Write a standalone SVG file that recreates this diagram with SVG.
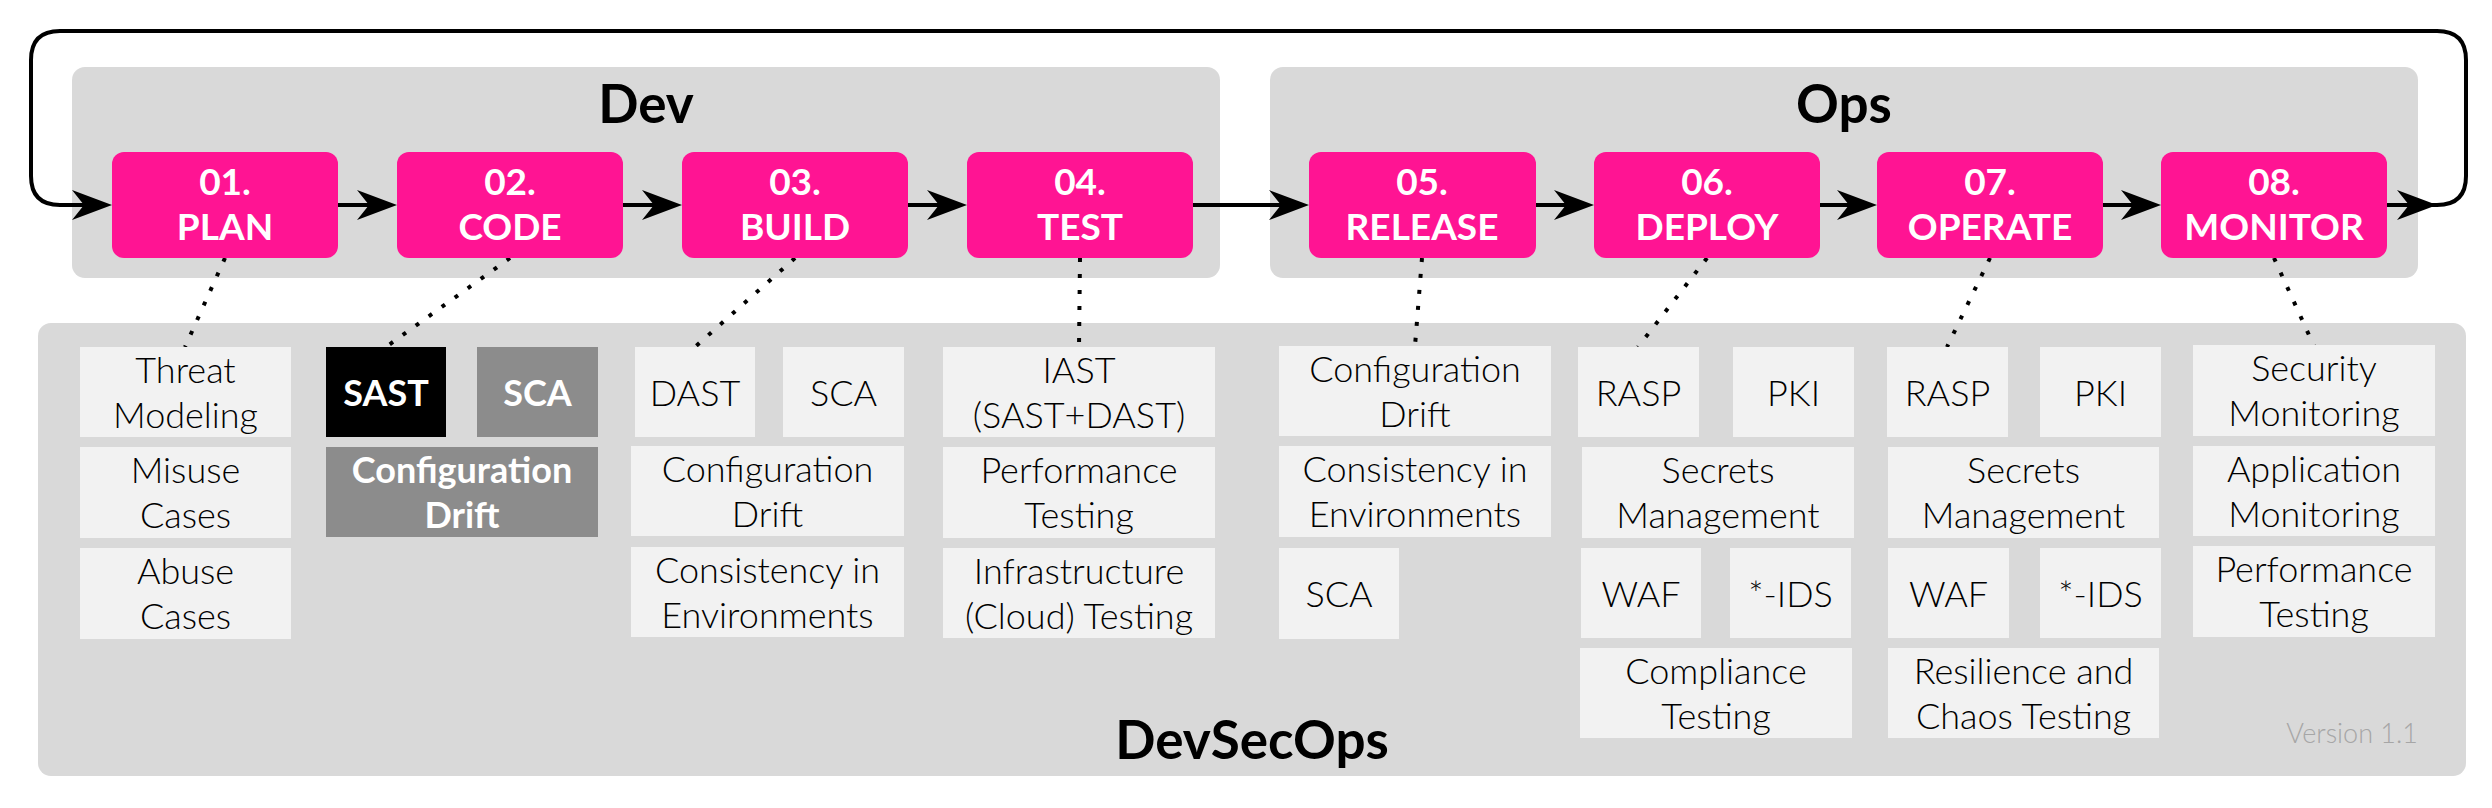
<svg xmlns="http://www.w3.org/2000/svg" width="2492" height="808" viewBox="0 0 2492 808">
<defs>
<style>
.grp{fill:#D9D9D9}
.pk{fill:#FF1493}
.lb{fill:#F2F2F2}
.dk{fill:#000000}
.md{fill:#8C8C8C}
.ttl{font-family:Lato,"Liberation Sans",sans-serif;font-weight:700;font-size:53px;fill:#000;text-anchor:middle}
.pt{font-family:Lato,"Liberation Sans",sans-serif;font-weight:700;font-size:37px;fill:#fff;text-anchor:middle}
.t{font-family:"Lato Light",Lato,"Liberation Sans",sans-serif;font-weight:300;font-size:36px;fill:#000;text-anchor:middle}
.tw{font-family:Lato,"Liberation Sans",sans-serif;font-weight:700;font-size:36px;fill:#fff;text-anchor:middle}
.ver{font-family:"Lato Light",Lato,"Liberation Sans",sans-serif;font-weight:300;font-size:27px;fill:#A6A6A6;text-anchor:end}
.ln{fill:none;stroke:#000;stroke-width:4}
.dot{fill:none;stroke:#000;stroke-width:4;stroke-dasharray:4 12}
</style>
<marker id="ah" viewBox="0 0 40 30" refX="34" refY="15" markerWidth="40" markerHeight="30" markerUnits="userSpaceOnUse" orient="auto">
<path d="M0,0 L40,15 L0,30 L12,15 Z" fill="#000"/>
</marker>
</defs>

<g id="groups">
<rect id="devsecops-box" class="grp" x="38" y="323" width="2428" height="453" rx="13"/>
<text class="ttl" x="1252" y="759">DevSecOps</text>
<text class="ver" x="2418" y="743">Version 1.1</text>
<rect id="dev-box" class="grp" x="72" y="67" width="1148" height="211" rx="13"/>
<text class="ttl" x="646" y="123">Dev</text>
<rect id="ops-box" class="grp" x="1270" y="67" width="1148" height="211" rx="13"/>
<text class="ttl" x="1844" y="123">Ops</text>
</g>

<g id="connectors">
<path class="ln" d="M338,205 H391" marker-end="url(#ah)"/>
<path class="ln" d="M623,205 H676" marker-end="url(#ah)"/>
<path class="ln" d="M908,205 H961" marker-end="url(#ah)"/>
<path class="ln" d="M1193,205 H1303" marker-end="url(#ah)"/>
<path class="ln" d="M1536,205 H1588" marker-end="url(#ah)"/>
<path class="ln" d="M1820,205 H1871" marker-end="url(#ah)"/>
<path class="ln" d="M2103,205 H2155" marker-end="url(#ah)"/>
<path class="ln" d="M2387,205 H2431" marker-end="url(#ah)"/>
<path class="ln" d="M2431,205 H2437 Q2466,205 2466,176 V60 Q2466,31 2437,31 H60 Q31,31 31,60 V176 Q31,205 60,205 H106" marker-end="url(#ah)"/>
<path class="dot" d="M225,258 L185,347"/>
<path class="dot" d="M510,258 L386,347"/>
<path class="dot" d="M795,258 L695,347"/>
<path class="dot" d="M1080,258 L1079,347"/>
<path class="dot" d="M1422,258 L1415,346"/>
<path class="dot" d="M1707,258 L1638,347"/>
<path class="dot" d="M1990,258 L1947,347"/>
<path class="dot" d="M2274,258 L2314,346"/>
</g>

<g id="plan">
<rect class="pk" x="112" y="152" width="226" height="106" rx="12"/>
<text class="pt" x="225" y="195">01.</text><text class="pt" x="225" y="240">PLAN</text>
</g>
<g id="code">
<rect class="pk" x="397" y="152" width="226" height="106" rx="12"/>
<text class="pt" x="510" y="195">02.</text><text class="pt" x="510" y="240">CODE</text>
</g>
<g id="build">
<rect class="pk" x="682" y="152" width="226" height="106" rx="12"/>
<text class="pt" x="795" y="195">03.</text><text class="pt" x="795" y="240">BUILD</text>
</g>
<g id="test">
<rect class="pk" x="967" y="152" width="226" height="106" rx="12"/>
<text class="pt" x="1080" y="195">04.</text><text class="pt" x="1080" y="240">TEST</text>
</g>
<g id="release">
<rect class="pk" x="1309" y="152" width="227" height="106" rx="12"/>
<text class="pt" x="1422" y="195">05.</text><text class="pt" x="1422" y="240">RELEASE</text>
</g>
<g id="deploy">
<rect class="pk" x="1594" y="152" width="226" height="106" rx="12"/>
<text class="pt" x="1707" y="195">06.</text><text class="pt" x="1707" y="240">DEPLOY</text>
</g>
<g id="operate">
<rect class="pk" x="1877" y="152" width="226" height="106" rx="12"/>
<text class="pt" x="1990" y="195">07.</text><text class="pt" x="1990" y="240">OPERATE</text>
</g>
<g id="monitor">
<rect class="pk" x="2161" y="152" width="226" height="106" rx="12"/>
<text class="pt" x="2274" y="195">08.</text><text class="pt" x="2274" y="240">MONITOR</text>
</g>

<g id="plan-items">
<g id="threat-modeling"><rect class="lb" x="80" y="347" width="211" height="90"/><text class="t" x="185.5" y="383">Threat</text><text class="t" x="185.5" y="428">Modeling</text></g>
<g id="misuse-cases"><rect class="lb" x="80" y="447" width="211" height="91"/><text class="t" x="185.5" y="483">Misuse</text><text class="t" x="185.5" y="528">Cases</text></g>
<g id="abuse-cases"><rect class="lb" x="80" y="548" width="211" height="91"/><text class="t" x="185.5" y="584">Abuse</text><text class="t" x="185.5" y="629">Cases</text></g>
</g>

<g id="code-items">
<g id="sast"><rect class="dk" x="326" y="347" width="120" height="90"/><text class="tw" x="386" y="406">SAST</text></g>
<g id="code-sca"><rect class="md" x="477" y="347" width="121" height="90"/><text class="tw" x="537.5" y="406">SCA</text></g>
<g id="code-config-drift"><rect class="md" x="326" y="447" width="272" height="90"/><text class="tw" x="462" y="483">Configuration</text><text class="tw" x="462" y="528">Drift</text></g>
</g>

<g id="build-items">
<g id="dast"><rect class="lb" x="635" y="347" width="120" height="90"/><text class="t" x="695" y="406">DAST</text></g>
<g id="build-sca"><rect class="lb" x="783" y="347" width="121" height="90"/><text class="t" x="843.5" y="406">SCA</text></g>
<g id="build-config-drift"><rect class="lb" x="631" y="446" width="273" height="90"/><text class="t" x="767.5" y="482">Configuration</text><text class="t" x="767.5" y="527">Drift</text></g>
<g id="build-consistency"><rect class="lb" x="631" y="547" width="273" height="90"/><text class="t" x="767.5" y="583">Consistency in</text><text class="t" x="767.5" y="628">Environments</text></g>
</g>

<g id="test-items">
<g id="iast"><rect class="lb" x="943" y="347" width="272" height="90"/><text class="t" x="1079" y="383">IAST</text><text class="t" x="1079" y="428">(SAST+DAST)</text></g>
<g id="test-performance"><rect class="lb" x="943" y="447" width="272" height="91"/><text class="t" x="1079" y="483">Performance</text><text class="t" x="1079" y="528">Testing</text></g>
<g id="infra-testing"><rect class="lb" x="943" y="548" width="272" height="90"/><text class="t" x="1079" y="584">Infrastructure</text><text class="t" x="1079" y="629">(Cloud) Testing</text></g>
</g>

<g id="release-items">
<g id="release-config-drift"><rect class="lb" x="1279" y="346" width="272" height="90"/><text class="t" x="1415" y="382">Configuration</text><text class="t" x="1415" y="427">Drift</text></g>
<g id="release-consistency"><rect class="lb" x="1279" y="446" width="272" height="91"/><text class="t" x="1415" y="482">Consistency in</text><text class="t" x="1415" y="527">Environments</text></g>
<g id="release-sca"><rect class="lb" x="1279" y="548" width="120" height="91"/><text class="t" x="1339" y="607">SCA</text></g>
</g>

<g id="deploy-items">
<g id="deploy-rasp"><rect class="lb" x="1578" y="347" width="121" height="90"/><text class="t" x="1638.5" y="406">RASP</text></g>
<g id="deploy-pki"><rect class="lb" x="1733" y="347" width="121" height="90"/><text class="t" x="1793.5" y="406">PKI</text></g>
<g id="deploy-secrets"><rect class="lb" x="1582" y="447" width="272" height="91"/><text class="t" x="1718" y="483">Secrets</text><text class="t" x="1718" y="528">Management</text></g>
<g id="deploy-waf"><rect class="lb" x="1581" y="548" width="120" height="90"/><text class="t" x="1641" y="607">WAF</text></g>
<g id="deploy-ids"><rect class="lb" x="1730" y="548" width="121" height="90"/><text class="t" x="1790.5" y="607">*-IDS</text></g>
<g id="compliance-testing"><rect class="lb" x="1580" y="648" width="272" height="90"/><text class="t" x="1716" y="684">Compliance</text><text class="t" x="1716" y="729">Testing</text></g>
</g>

<g id="operate-items">
<g id="operate-rasp"><rect class="lb" x="1887" y="347" width="121" height="90"/><text class="t" x="1947.5" y="406">RASP</text></g>
<g id="operate-pki"><rect class="lb" x="2040" y="347" width="121" height="90"/><text class="t" x="2100.5" y="406">PKI</text></g>
<g id="operate-secrets"><rect class="lb" x="1888" y="447" width="271" height="91"/><text class="t" x="2023.5" y="483">Secrets</text><text class="t" x="2023.5" y="528">Management</text></g>
<g id="operate-waf"><rect class="lb" x="1888" y="548" width="121" height="90"/><text class="t" x="1948.5" y="607">WAF</text></g>
<g id="operate-ids"><rect class="lb" x="2040" y="548" width="121" height="90"/><text class="t" x="2100.5" y="607">*-IDS</text></g>
<g id="resilience-chaos"><rect class="lb" x="1888" y="648" width="271" height="90"/><text class="t" x="2023.5" y="684">Resilience and</text><text class="t" x="2023.5" y="729">Chaos Testing</text></g>
</g>

<g id="monitor-items">
<g id="security-monitoring"><rect class="lb" x="2193" y="345" width="242" height="91"/><text class="t" x="2314" y="381">Security</text><text class="t" x="2314" y="426">Monitoring</text></g>
<g id="application-monitoring"><rect class="lb" x="2193" y="446" width="242" height="90"/><text class="t" x="2314" y="482">Application</text><text class="t" x="2314" y="527">Monitoring</text></g>
<g id="monitor-performance"><rect class="lb" x="2193" y="546" width="242" height="91"/><text class="t" x="2314" y="582">Performance</text><text class="t" x="2314" y="627">Testing</text></g>
</g>
</svg>
